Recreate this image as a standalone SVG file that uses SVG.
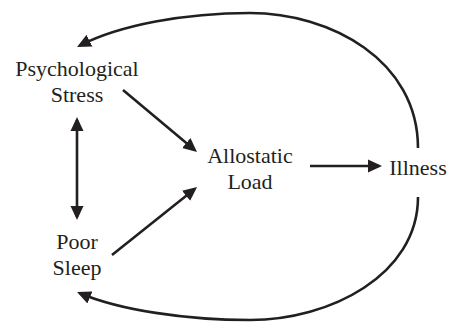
<svg xmlns="http://www.w3.org/2000/svg" width="449" height="322" viewBox="0 0 449 322">
<defs>
<marker id="ah" viewBox="0 0 14 14" refX="11" refY="7" markerWidth="14" markerHeight="14" markerUnits="userSpaceOnUse" orient="auto-start-reverse">
<path d="M0,0.5 L14,7 L0,13.5 z" fill="#231f20"/>
</marker>
</defs>
<rect width="449" height="322" fill="#fff"/>
<g id="stress"><text x="15.3" y="76" font-size="22" font-family="Liberation Serif" fill="#231f20">Psychological</text><text x="50.7" y="102" font-size="22" font-family="Liberation Serif" fill="#231f20">Stress</text></g>
<g id="sleep"><text x="56.2" y="249" font-size="22" font-family="Liberation Serif" fill="#231f20">Poor</text><text x="52.6" y="275" font-size="22" font-family="Liberation Serif" fill="#231f20">Sleep</text></g>
<g id="load"><text x="207.2" y="163" font-size="22" font-family="Liberation Serif" fill="#231f20">Allostatic</text><text x="227.4" y="189" font-size="22" font-family="Liberation Serif" fill="#231f20">Load</text></g>
<g id="illness"><text x="389.3" y="175" font-size="22" font-family="Liberation Serif" fill="#231f20">Illness</text></g>
<g id="connectors" fill="none" stroke="#231f20" stroke-width="2.6">
<path d="M123,90 L194.7,150.1" marker-end="url(#ah)"/>
<path d="M112,255 L194.7,188.9" marker-end="url(#ah)"/>
<path d="M77,120 L77,217" marker-start="url(#ah)" marker-end="url(#ah)"/>
<path d="M310,166 L379,166" marker-end="url(#ah)"/>
<path d="M418,148 C418,60 330,13 250,13 C185,13 120,25 79.7,45.6" marker-end="url(#ah)"/>
<path d="M418,197 C418,275 330,320 250,320 C185,320 120,310 79.8,293.2" marker-end="url(#ah)"/>
</g>
</svg>
